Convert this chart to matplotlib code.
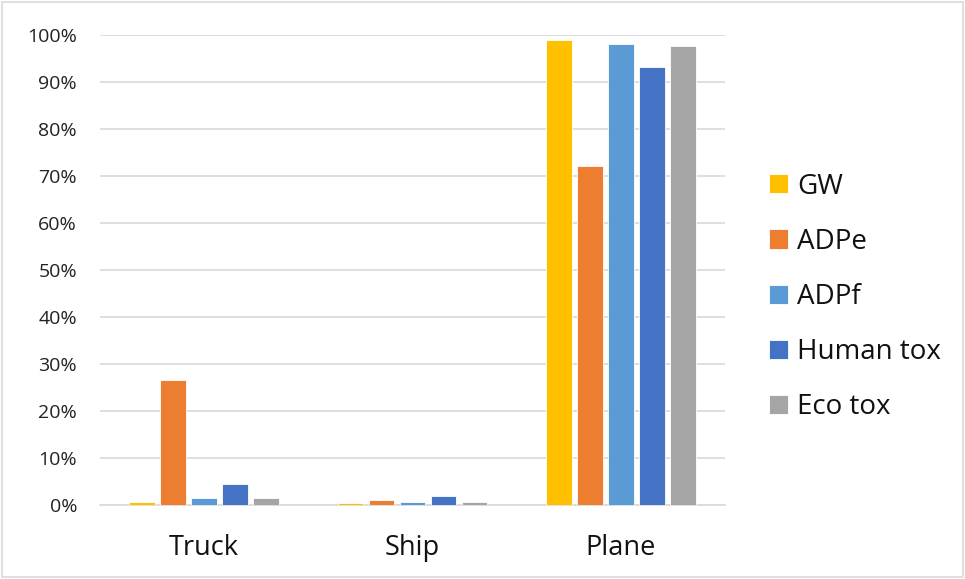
import matplotlib
matplotlib.use("Agg")
import matplotlib.pyplot as plt
import numpy as np
from matplotlib.patches import Rectangle

categories = ["Truck", "Ship", "Plane"]
series_names = ["GW", "ADPe", "ADPf", "Human tox", "Eco tox"]
gw = [0.6, 0.5, 99.0]
adpe = [26.7, 1.1, 72.1]
adpf = [1.4, 0.6, 98.0]
human_tox = [4.4, 2.0, 93.1]
eco_tox = [1.5, 0.7, 97.6]
yticks = [0, 10, 20, 30, 40, 50, 60, 70, 80, 90, 100]
colors = ["#FFC000", "#ED7D31", "#5B9BD5", "#4472C4", "#A5A5A5"]

plt.rcParams['font.family'] = ['Open Sans', 'DejaVu Sans']

fig = plt.figure(figsize=(9.65, 5.79), dpi=100)
W, H = 965, 579
ax = fig.add_axes([100 / W, 1 - 505 / H, (725 - 100) / W, (505 - 35) / H])

data = [gw, adpe, adpf, human_tox, eco_tox]
x = np.arange(len(categories))
slot = 0.149
bw = 0.124
for i, (name, vals, c) in enumerate(zip(series_names, data, colors)):
    ax.bar(x + (i - 2) * slot, vals, width=bw, color=c, label=name, zorder=3,
           edgecolor="white", linewidth=0.6)

ax.set_xlim(-0.5, 2.5)
ax.set_ylim(0, 100)
ax.set_yticks(yticks)
ax.set_yticklabels([f"{t}%" for t in yticks], fontsize=14, color="#222222")
ax.set_xticks(x)
ax.set_xticklabels(categories, fontsize=19.5, color="#111111")
ax.tick_params(axis="y", length=0, pad=16.5)
ax.tick_params(axis="x", length=0, pad=21)
ax.yaxis.grid(True, color="#D9D9D9", linewidth=1.2, zorder=0)
ax.set_axisbelow(True)
for s in ["top", "right", "left"]:
    ax.spines[s].set_visible(False)
ax.spines["bottom"].set_color("#D9D9D9")
ax.spines["bottom"].set_linewidth(1.2)

leg = fig.legend(loc="center left", bbox_to_anchor=(744 / W, 1 - 297 / H),
                 frameon=False, fontsize=20, handlelength=0.68, handleheight=0.68,
                 labelspacing=0.98, handletextpad=0.33)
for t in leg.get_texts():
    t.set_color("#111111")

fig.patches.append(Rectangle((2 / W, 2 / H), 1 - 4 / W, 1 - 4 / H, transform=fig.transFigure,
                             fill=False, edgecolor="#D9D9D9", linewidth=1.2))

fig.savefig("out.png", dpi=100)
